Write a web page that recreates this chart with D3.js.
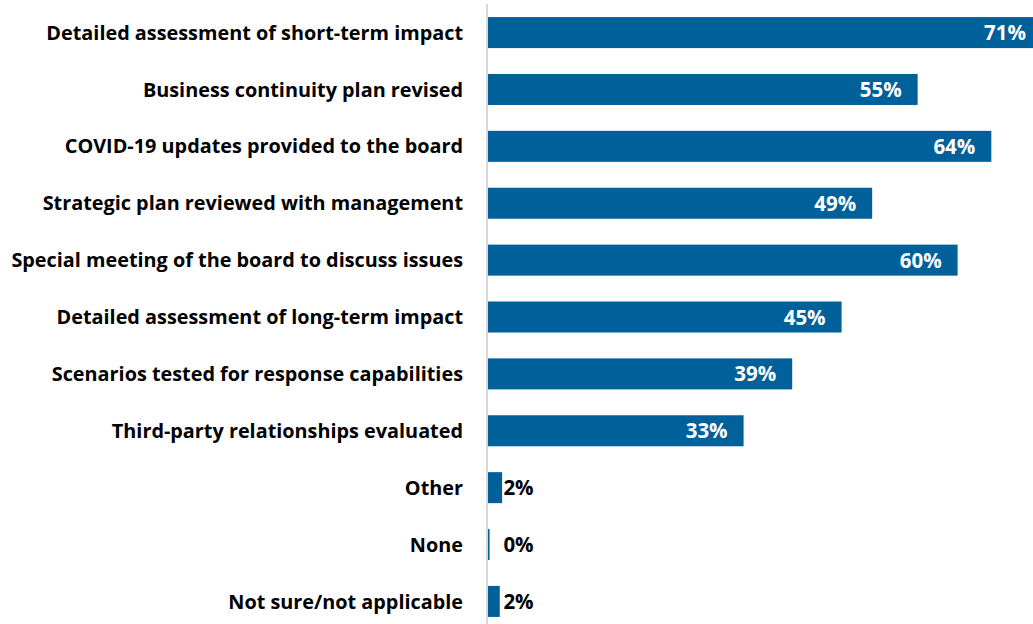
<!DOCTYPE html>
<html>
<head>
<meta charset="UTF-8">
<style>
  body { margin: 0; background: #fff; }
  svg { display: block; }
</style>
<script src="https://d3js.org/d3.v7.min.js"></script>
</head>
<body>
<div id="chart"></div>
<script>
// survey answers, top to bottom
var categories = [
  "Detailed assessment of short-term impact",
  "Business continuity plan revised",
  "COVID-19 updates provided to the board",
  "Strategic plan reviewed with management",
  "Special meeting of the board to discuss issues",
  "Detailed assessment of long-term impact",
  "Scenarios tested for response capabilities",
  "Third-party relationships evaluated",
  "Other",
  "None",
  "Not sure/not applicable"
];
// share of respondents (%)
var values = [71, 54.8, 64.2, 49, 59.9, 45.1, 38.8, 32.6, 1.8, 0.2, 1.5];

var width = 1033, height = 624;
var axisX = 487;
var barColor = "#00609a";
var font = "'Open Sans', 'Noto Sans', sans-serif";

var svg = d3.select("#chart").append("svg")
  .attr("width", width)
  .attr("height", height);

var x = d3.scaleLinear().domain([0, 10]).range([axisX + 1, axisX + 1 + 78.4]);
var y = d3.scaleBand().domain(categories).range([4, 630]).paddingInner(0.455).paddingOuter(0.23);

// bars
svg.selectAll("rect.bar")
  .data(values)
  .enter().append("rect")
  .attr("class", "bar")
  .attr("x", x(0))
  .attr("y", function(d, i){ return y(categories[i]); })
  .attr("width", function(d){ return x(d) - x(0); })
  .attr("height", y.bandwidth())
  .attr("fill", barColor);

// vertical axis line
svg.append("line")
  .attr("x1", axisX).attr("x2", axisX)
  .attr("y1", 4).attr("y2", height)
  .attr("stroke", "#d9d9d9")
  .attr("stroke-width", 2);

// category labels
var cats = svg.selectAll("text.cat")
  .data(categories)
  .enter().append("text")
  .attr("class", "cat")
  .attr("x", 463)
  .attr("y", function(d){ return y(d) + y.bandwidth() / 2; })
  .attr("dy", "0.36em")
  .attr("text-anchor", "end")
  .style("font-family", font)
  .style("font-weight", "bold")
  .style("font-size", "18px")
  .style("fill", "#000")
  .text(function(d){ return d; });

// fit the first label to its width in the picture (46 -> 463)
var w0 = cats.node().getComputedTextLength();
cats.style("font-size", (18 * 417 / w0).toFixed(2) + "px");

// value labels: inside the end of big bars, just outside small ones
svg.selectAll("text.val")
  .data(values)
  .enter().append("text")
  .attr("class", "val")
  .attr("x", function(d){
    if (d > 10) return Math.min(x(d), width + 9) - 16;
    return x(1.9) + 0.5;
  })
  .attr("y", function(d, i){ return y(categories[i]) + y.bandwidth() / 2; })
  .attr("dy", "0.37em")
  .attr("text-anchor", function(d){ return d > 10 ? "end" : "start"; })
  .style("font-family", font)
  .style("font-weight", "bold")
  .style("font-size", "20.5px")
  .style("fill", function(d){ return d > 10 ? "#fff" : "#000"; })
  .text(function(d){ return Math.round(d) + "%"; });
</script>
</body>
</html>
